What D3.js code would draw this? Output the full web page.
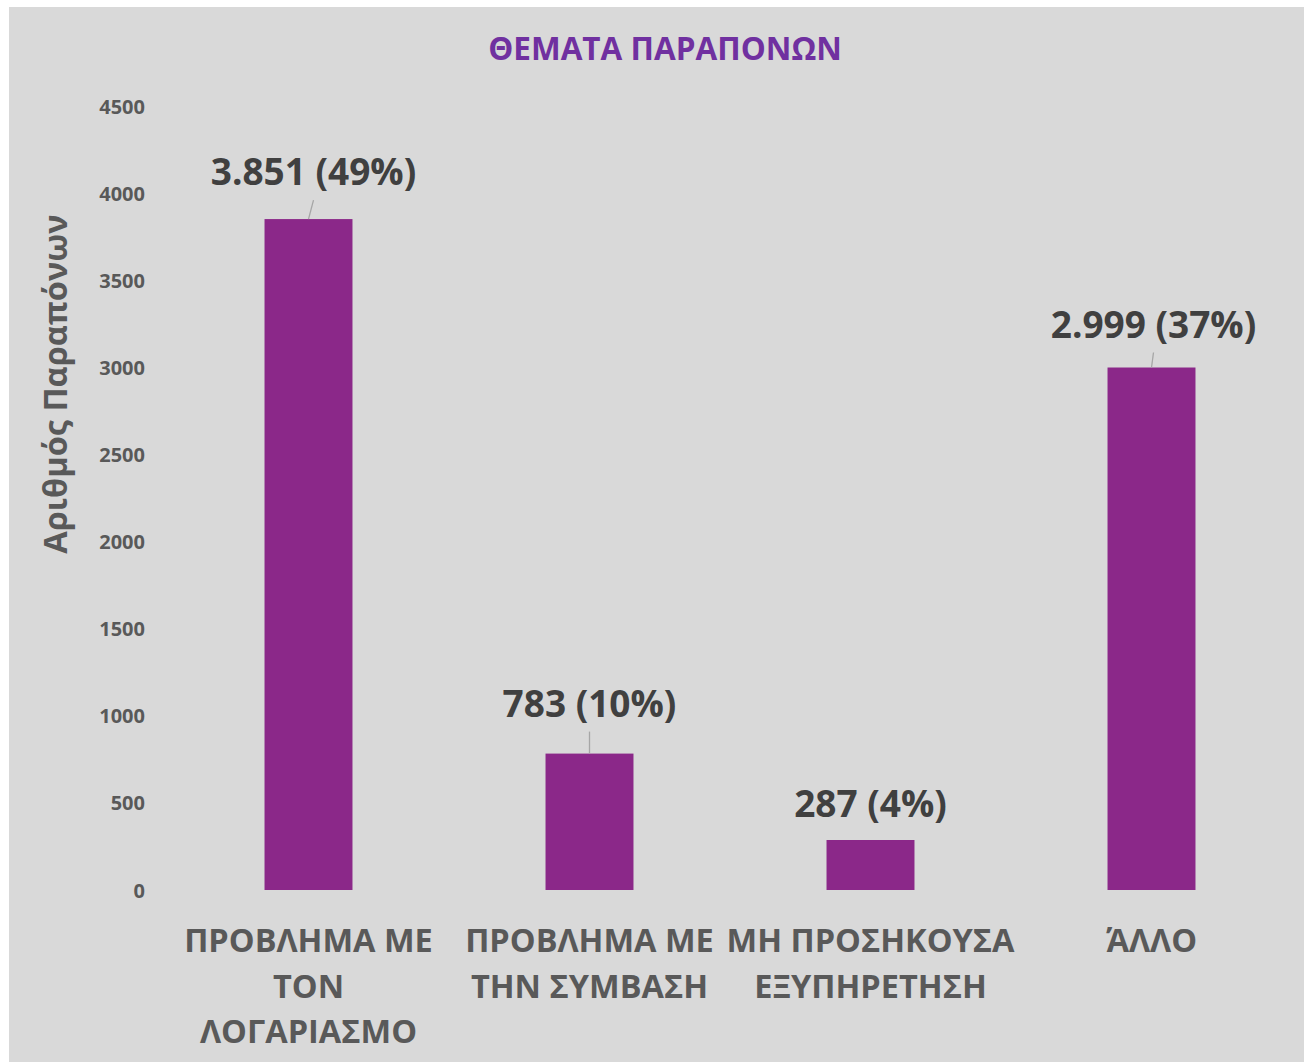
<!DOCTYPE html>
<html><head><meta charset="utf-8">
<script src="https://cdn.jsdelivr.net/npm/d3@7"></script>
<style>body{margin:0;background:#fff;} text{font-family:"Open Sans",sans-serif;font-weight:700;}</style>
</head><body><svg id="c" width="1304" height="1063"></svg>
<script>
const categories = [["ΠΡΟΒΛΗΜΑ ΜΕ","ΤΟΝ","ΛΟΓΑΡΙΑΣΜΟ"],["ΠΡΟΒΛΗΜΑ ΜΕ","ΤΗΝ ΣΥΜΒΑΣΗ"],["ΜΗ ΠΡΟΣΗΚΟΥΣΑ","ΕΞΥΠΗΡΕΤΗΣΗ"],["ΆΛΛΟ"]];
const values = [3851, 783, 287, 2999];
const dataLabels = ["3.851 (49%)","783 (10%)","287 (4%)","2.999 (37%)"];
const yTicks = [0,500,1000,1500,2000,2500,3000,3500,4000,4500];
const title = "ΘΕΜΑΤΑ ΠΑΡΑΠΟΝΩΝ";
const yTitle = "Αριθμός Παραπόνων";

const svg = d3.select("#c");
svg.append("rect").attr("x",9).attr("y",7).attr("width",1295).attr("height",1055).attr("fill","#d9d9d9");

const x = d3.scaleBand().domain(d3.range(values.length)).range([168,1292]).paddingInner(0.687).paddingOuter(0.3435);
const y = d3.scaleLinear().domain([0,4500]).range([890,106]);

svg.append("text").attr("x",665).attr("y",60).attr("text-anchor","middle").attr("fill","#7030a0").attr("font-size",31.5).text(title);

const ya = svg.append("g").attr("transform","translate(149,0)").call(d3.axisLeft(y).tickValues(yTicks).tickFormat(d3.format("d")).tickSize(0).tickPadding(4));
ya.select(".domain").remove();
ya.selectAll("text").attr("fill","#595959").attr("font-size",20).style("font-family","'Open Sans',sans-serif").style("font-weight",700).attr("dy","0.35em");

svg.append("text").attr("transform","translate(67,384) rotate(-90)").attr("text-anchor","middle").attr("fill","#595959").attr("font-size",32.5).text(yTitle);

svg.selectAll("rect.bar").data(values).join("rect").attr("class","bar")
  .attr("x",(d,i)=>x(i)).attr("width",x.bandwidth()).attr("y",d=>y(d)).attr("height",d=>y(0)-y(d)).attr("fill","#8b2889");

const labelOffsets = [[5,49],[0,52],[0,38],[2,45]];
values.forEach((v,i)=>{
  const cx = x(i)+x.bandwidth()/2;
  const lx = cx+labelOffsets[i][0], ly = y(v)-labelOffsets[i][1];
  svg.append("text").attr("x",lx).attr("y",ly+15).attr("text-anchor","middle").attr("fill","#404040").attr("font-size",37).text(dataLabels[i]);
  if(i!==2) svg.append("line").attr("x1",lx).attr("y1",ly+30).attr("x2",cx).attr("y2",y(v)).attr("stroke","#a6a6a6").attr("stroke-width",1.3);
});

categories.forEach((lines,i)=>{
  const cx = x(i)+x.bandwidth()/2;
  lines.forEach((t,j)=>{
    svg.append("text").attr("x",cx).attr("y",952+j*45.5).attr("text-anchor","middle").attr("fill","#595959").attr("font-size",32.5).text(t);
  });
});
</script></body></html>
